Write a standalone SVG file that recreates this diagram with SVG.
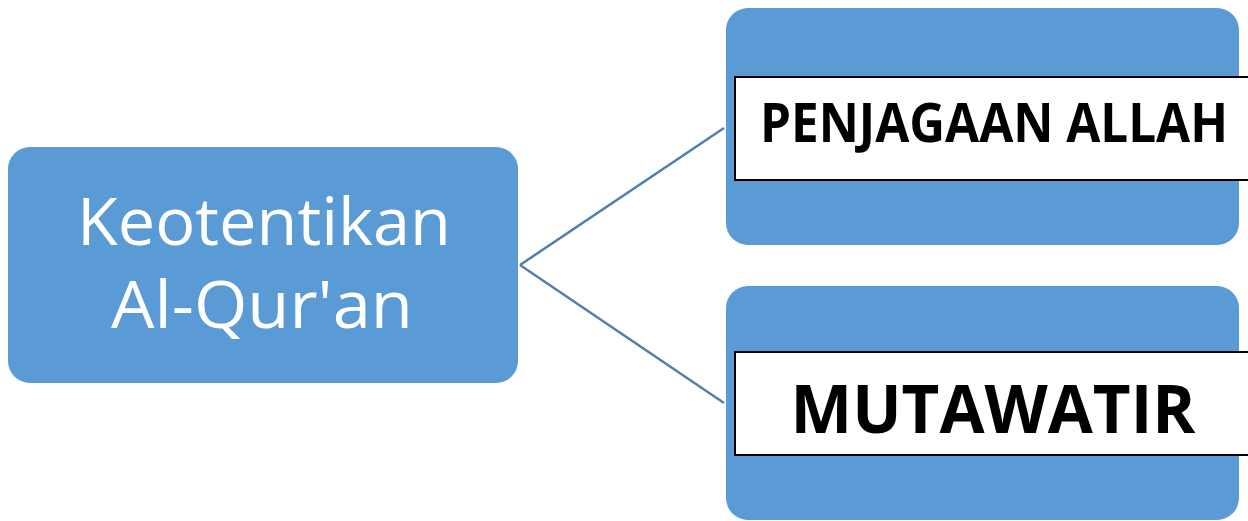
<svg xmlns="http://www.w3.org/2000/svg" width="1248" height="521" viewBox="0 0 1248 521">
  <style>
    .box { fill: #5b9bd5; }
    .label { fill: #ffffff; stroke: #000000; stroke-width: 2; }
    .link { stroke: #4f7fae; stroke-width: 2.5; fill: none; }
    .main { font-family: "Open Sans", "Noto Sans", sans-serif; font-size: 66px; fill: #ffffff; text-anchor: middle; }
    .sub { font-family: "Open Sans", "Noto Sans", sans-serif; font-weight: bold; fill: #000000; text-anchor: middle; }
  </style>
  <rect width="1248" height="521" fill="#ffffff"/>
  <g id="connectors">
    <line class="link" x1="520" y1="265" x2="724" y2="128"/>
    <line class="link" x1="520" y1="265" x2="724" y2="403"/>
  </g>
  <g id="root">
    <rect class="box" x="8" y="147" width="510" height="236" rx="22"/>
    <text class="main" x="264" y="245" textLength="374" lengthAdjust="spacingAndGlyphs">Keotentikan</text>
    <text class="main" x="262" y="328" textLength="302" lengthAdjust="spacingAndGlyphs">Al-Qur'an</text>
  </g>
  <g id="penjagaan">
    <rect class="box" x="726" y="8" width="513" height="237" rx="22"/>
    <rect class="label" x="735" y="77" width="515" height="103"/>
    <text class="sub" x="994" y="142" font-size="54" textLength="468" lengthAdjust="spacingAndGlyphs">PENJAGAAN ALLAH</text>
  </g>
  <g id="mutawatir">
    <rect class="box" x="726" y="286" width="513" height="234" rx="22"/>
    <rect class="label" x="735" y="352" width="515" height="103"/>
    <text class="sub" x="993" y="433" font-size="66" textLength="405" lengthAdjust="spacingAndGlyphs">MUTAWATIR</text>
  </g>
</svg>
